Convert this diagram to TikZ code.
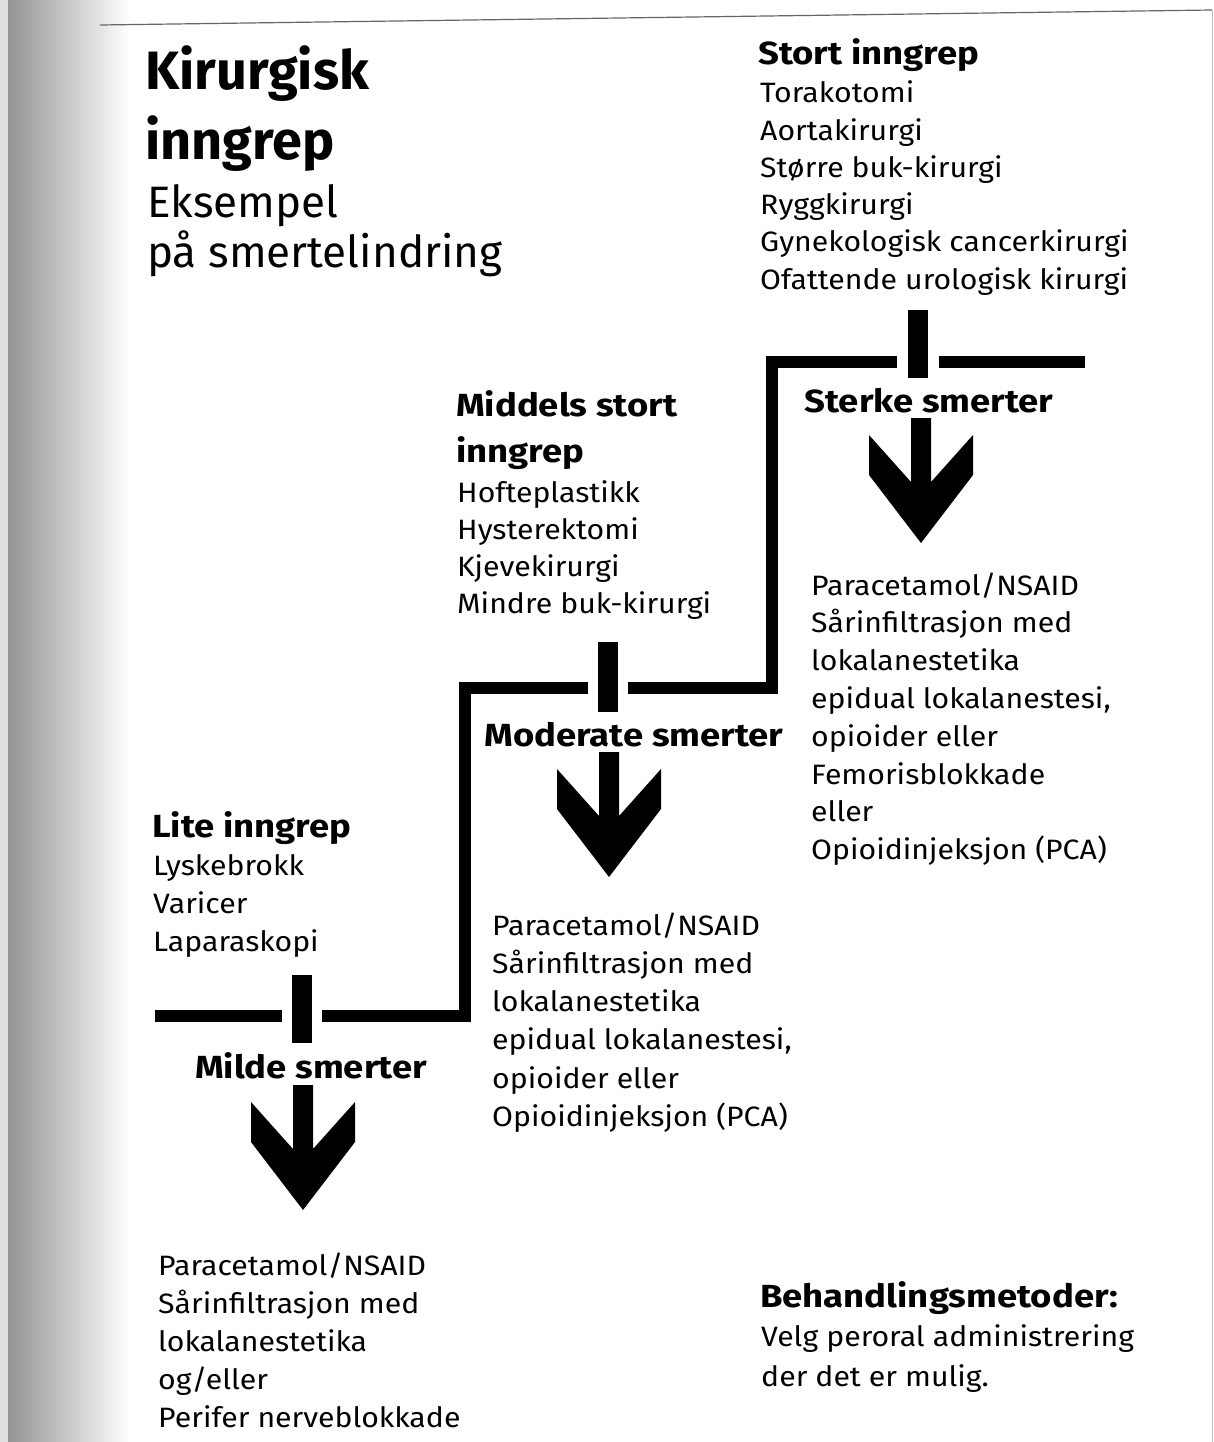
\documentclass[tikz,border=0pt]{standalone}
\usepackage{fontspec}
\setmainfont{Fira Sans}[FakeStretch=1.08]
\newfontfamily\headfont{Fira Sans}[FakeStretch=1.14]
\newfontfamily\titlefont{Fira Sans}
\begin{document}
\begin{tikzpicture}[x=1pt,y=-1pt,
  item/.style={anchor=base west, inner sep=0, font=\fontsize{28}{34}\selectfont},
  head/.style={anchor=base west, inner sep=0, font=\headfont\fontsize{32}{38}\selectfont\bfseries},
  lab/.style={anchor=base, inner sep=0, font=\headfont\fontsize{32}{36}\selectfont\bfseries},
  bar/.style={line width=12pt, line cap=butt, line join=miter},
  tickbar/.style={line width=20pt, line cap=butt},
  painarrow/.pic={\fill (-10,0) -- (10,0) -- (10,64) -- (52,17) -- (52,57) -- (0,125) -- (-52,57) -- (-52,17) -- (-10,64) -- cycle;}]
\useasboundingbox (0,0) rectangle (1214,1442);
\fill[white] (0,0) rectangle (1214,1442);
\fill[black!12] (0,0) rectangle (8,1442);
\shade[left color=black!42, right color=white] (8,0) rectangle (130,1442);
\draw[black!60, line width=1.2pt] (100,25) -- (1212,10);
\draw[black!25, line width=1pt] (1212,10) -- (1212,1442);

% title
\node[anchor=base west, inner sep=0, font=\titlefont\fontsize{54}{60}\selectfont\bfseries] (t1) at (145,90) {Kirurgisk};
\node[anchor=base west, inner sep=0, font=\titlefont\fontsize{54}{60}\selectfont\bfseries] (t2) at (145,160) {inngrep};
\node[anchor=base west, inner sep=0, font=\titlefont\fontsize{44}{54}\selectfont] (t3) at (147,217) {Eksempel};
\node[anchor=base west, inner sep=0, font=\titlefont\fontsize{44}{54}\selectfont] (t4) at (147,267) {på smertelindring};

% stort inngrep
\node[head] (stort) at (758,65) {Stort inngrep};
\foreach \t [count=\i] in {Torakotomi, Aortakirurgi, Større buk-kirurgi, Ryggkirurgi, Gynekologisk cancerkirurgi, Ofattende urologisk kirurgi}
  \node[item] (stort\i) at (760,{103+(\i-1)*37.2}) {\t};

% middels stort inngrep
\node[head] (midA) at (456,416) {Middels stort};
\node[head] (midB) at (456,462) {inngrep};
\foreach \t [count=\i] in {Hofteplastikk, Hysterektomi, Kjevekirurgi, Mindre buk-kirurgi}
  \node[item] (mid\i) at (457,{502+(\i-1)*37.2}) {\t};

% lite inngrep
\node[head] (lite) at (152,837) {Lite inngrep};
\foreach \t [count=\i] in {Lyskebrokk, Varicer, Laparaskopi}
  \node[item] (lite\i) at (153,{875+(\i-1)*38}) {\t};

% treatments
\foreach \t [count=\i] in {Paracetamol/NSAID, Sårinfiltrasjon med, lokalanestetika, og/eller, Perifer nerveblokkade}
  \node[item] (tl\i) at (158,{1275+(\i-1)*38}) {\t};
\foreach \t [count=\i] in {Paracetamol/NSAID, Sårinfiltrasjon med, lokalanestetika, {epidual lokalanestesi,}, opioider eller, Opioidinjeksjon (PCA)}
  \node[item] (tm\i) at (492,{935+(\i-1)*38.3}) {\t};
\foreach \t [count=\i] in {Paracetamol/NSAID, Sårinfiltrasjon med, lokalanestetika, {epidual lokalanestesi,}, opioider eller, Femorisblokkade, eller, Opioidinjeksjon (PCA)}
  \node[item] (tr\i) at (811,{595+(\i-1)*37.8}) {\t};

% behandlingsmetoder
\node[head] (beh) at (760,1307) {Behandlingsmetoder:};
\node[item] (beh1) at (761,1346) {Velg peroral administrering};
\node[item] (beh2) at (761,1386) {der det er mulig.};

% labels
\node[lab] (milde) at (311,1078) {Milde smerter};
\node[lab] (moderate) at (634,746) {Moderate smerter};
\node[lab] (sterke) at (929,412) {Sterke smerter};

% staircase
\draw[bar] (155,1016) -- (282,1016);
\draw[bar] (322,1016) -- (465,1016) -- (465,688) -- (588,688);
\draw[bar] (628,688) -- (772,688) -- (772,362) -- (897,362);
\draw[bar] (939,362) -- (1085,362);

% ticks
\draw[tickbar] (302,975) -- (302,1043);
\draw[tickbar] (608,642) -- (608,712);
\draw[tickbar] (918,310) -- (918,378);

% arrows
\pic at (303,1085) {painarrow};
\pic at (609,752) {painarrow};
\pic at (921,418) {painarrow};
\end{tikzpicture}
\end{document}
